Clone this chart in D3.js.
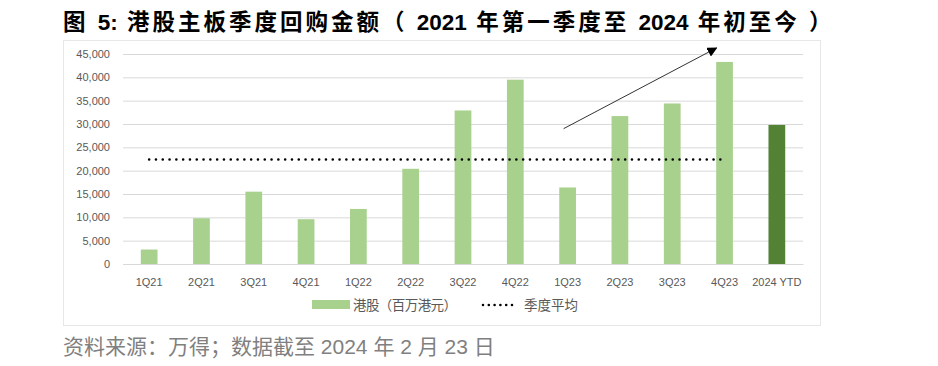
<!DOCTYPE html>
<html>
<head>
<meta charset="utf-8">
<script src="https://cdn.jsdelivr.net/npm/d3@7"></script>
<style>
  body { margin: 0; background: #fff; }
  text { font-family: "Liberation Sans", "Noto Sans CJK SC", sans-serif; }
</style>
</head>
<body>
<svg width="938" height="366"></svg>
<script>
// data (million HKD)
var quarters = ["1Q21", "2Q21", "3Q21", "4Q21", "1Q22", "2Q22", "3Q22", "4Q22", "1Q23", "2Q23", "3Q23", "4Q23", "2024 YTD"];
var buyback = [3100, 9800, 15500, 9600, 11800, 20400, 32900, 39500, 16400, 31700, 34400, 43300, 29800];
var quarterAvg = 22400;
var yTicks = [0, 5000, 10000, 15000, 20000, 25000, 30000, 35000, 40000, 45000];
var avgFrom = "1Q21", avgTo = "4Q23";
var arrowFrom = ["1Q23", 29000], arrowTo = ["4Q23", 46300];
var titleParts = ["图 ", "5:", "  ", "港股主板季度回购金额", "（ ", "2021", " ", "年第一季度至", " ", "2024", " ", "年初至今", " ）"];

var svg = d3.select("svg");

var x = d3.scaleBand()
    .domain(quarters)
    .range([123, 803])
    .paddingInner(0.68)
    .paddingOuter(0.34);

var y = d3.scaleLinear()
    .domain([0, 45000])
    .range([264, 54]);

// frame around chart
svg.append("rect")
    .attr("x", 63.5).attr("y", 40.5)
    .attr("width", 757).attr("height", 285)
    .style("fill", "none")
    .style("stroke", "#cfcfcf")
    .style("stroke-dasharray", "1,1");

// title, cjk runs get a bit of extra spacing
var title = svg.append("text")
    .attr("x", 63)
    .attr("y", 30)
    .style("font-size", "22.5px")
    .style("font-weight", "bold")
    .style("fill", "#000");
title.selectAll("tspan")
    .data(titleParts)
    .enter().append("tspan")
      .style("letter-spacing", function(d) { return /[0-9]/.test(d) ? "0px" : "3px"; })
      .text(function(d) { return d; });

// grid + y labels
var yAxis = svg.append("g")
    .attr("transform", "translate(123,0)")
    .call(d3.axisLeft(y).tickValues(yTicks).tickSize(-680).tickPadding(13).tickFormat(d3.format(",")));
yAxis.select(".domain").remove();
yAxis.selectAll("line").style("stroke", "#d9d9d9");
yAxis.selectAll("text").style("font-size", "11px").style("fill", "#595959")
    .style("font-family", "'Liberation Sans', sans-serif");

// x labels
var xAxis = svg.append("g")
    .attr("transform", "translate(0,264)")
    .call(d3.axisBottom(x).tickSize(0).tickPadding(14));
xAxis.select(".domain").style("stroke", "#d9d9d9");
xAxis.selectAll("text").style("font-size", "11px").style("fill", "#595959")
    .style("font-family", "'Liberation Sans', sans-serif");

// bars
svg.append("g")
    .selectAll("rect")
    .data(quarters)
    .enter().append("rect")
      .attr("x", function(d) { return x(d); })
      .attr("y", function(d, i) { return y(buyback[i]); })
      .attr("width", x.bandwidth())
      .attr("height", function(d, i) { return y(0) - y(buyback[i]); })
      .style("fill", function(d) { return d == "2024 YTD" ? "#548235" : "#a9d18e"; });

// quarterly average dotted line
svg.append("line")
    .attr("x1", x(avgFrom) + x.bandwidth() / 2)
    .attr("x2", x(avgTo) + x.bandwidth() / 2)
    .attr("y1", y(quarterAvg))
    .attr("y2", y(quarterAvg))
    .style("stroke", "#000")
    .style("stroke-width", 2.6)
    .style("stroke-linecap", "round")
    .style("stroke-dasharray", "0,6.8");

// trend arrow
svg.append("defs").append("marker")
    .attr("id", "head")
    .attr("viewBox", "0 0 10 10")
    .attr("refX", 9).attr("refY", 5)
    .attr("markerWidth", 10).attr("markerHeight", 10)
    .attr("markerUnits", "userSpaceOnUse")
    .attr("orient", "auto")
  .append("path")
    .attr("d", "M0,0L10,5L0,10Z")
    .style("fill", "#000");

svg.append("line")
    .attr("x1", x(arrowFrom[0]) + x.bandwidth() / 2 - 4)
    .attr("y1", y(arrowFrom[1]))
    .attr("x2", x(arrowTo[0]) + x.bandwidth() / 2 - 8)
    .attr("y2", y(arrowTo[1]))
    .style("stroke", "#333")
    .style("stroke-width", 1)
    .attr("marker-end", "url(#head)");

// legend
var legend = svg.append("g").attr("transform", "translate(0,305)");
legend.append("rect")
    .attr("x", 312).attr("y", -5)
    .attr("width", 38).attr("height", 9)
    .style("fill", "#a9d18e");
legend.append("text")
    .attr("x", 353).attr("y", 4.5)
    .attr("textLength", 104)
    .attr("lengthAdjust", "spacing")
    .style("font-size", "13.5px").style("fill", "#595959")
    .text("港股（百万港元）");
legend.append("line")
    .attr("x1", 483).attr("x2", 512)
    .attr("y1", 0).attr("y2", 0)
    .style("stroke", "#000")
    .style("stroke-width", 2.6)
    .style("stroke-linecap", "round")
    .style("stroke-dasharray", "0,5.8");
legend.append("text")
    .attr("x", 524).attr("y", 4.5)
    .style("font-size", "13.5px").style("fill", "#595959")
    .text("季度平均");

// source
svg.append("text")
    .attr("x", 63)
    .attr("y", 354)
    .style("font-size", "21px")
    .style("fill", "#808080")
    .text("资料来源：万得；数据截至  2024 年 2 月 23 日");
</script>
</body>
</html>
